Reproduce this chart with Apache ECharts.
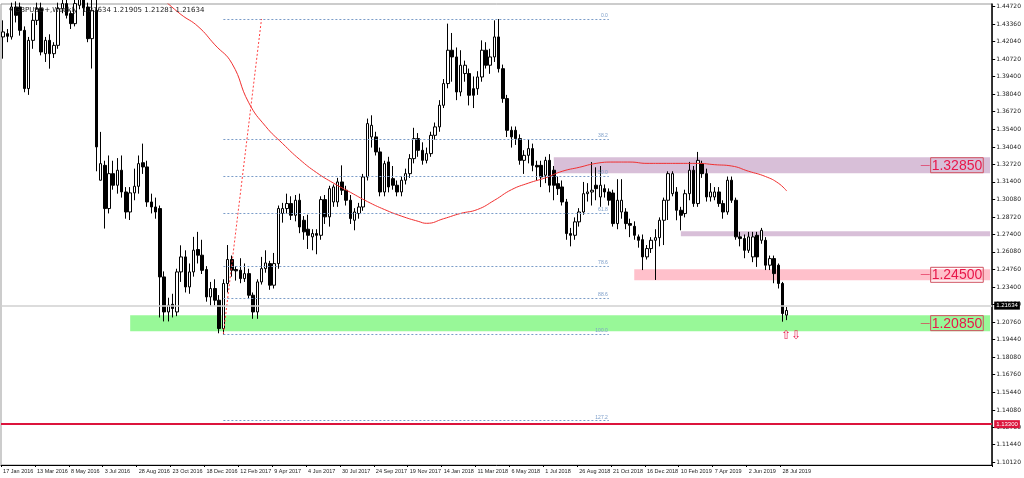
<!DOCTYPE html>
<html>
<head>
<meta charset="utf-8">
<script src="https://cdn.jsdelivr.net/npm/echarts@6/dist/echarts.min.js"></script>
<style>
  html, body { margin: 0; padding: 0; background: #fff; }
  #chart { width: 1024px; height: 478px; }
</style>
</head>
<body>
<div id="chart"></div>
<script>
// weekly candles GBPUSD, [open, close, low, high], first week 17 Jan 2016
const candles = [
  [1.4240,1.4278,1.4075,1.4366],[1.4265,1.4245,1.4200,1.4300],[1.4240,1.4467,1.4220,1.4500],[1.4467,1.4404,1.4350,1.4510],
  [1.4467,1.4290,1.4250,1.4500],[1.4290,1.3848,1.3820,1.4320],[1.3848,1.4214,1.3800,1.4240],[1.4214,1.4366,1.4150,1.4420],
  [1.4366,1.4455,1.4330,1.4500],[1.4455,1.4126,1.4100,1.4500],[1.4113,1.4214,1.4050,1.4240],[1.4214,1.4113,1.3999,1.4260],
  [1.4113,1.4176,1.4080,1.4200],[1.4176,1.4455,1.4150,1.4500],[1.4455,1.4493,1.4420,1.4540],[1.4493,1.4404,1.4380,1.4560],
  [1.4417,1.4341,1.4300,1.4440],[1.4341,1.4493,1.4320,1.4550],[1.4480,1.4530,1.4450,1.4600],[1.4530,1.4460,1.4400,1.4650],
  [1.4467,1.4227,1.4200,1.4500],[1.4227,1.4442,1.4000,1.4800],[1.4442,1.3405,1.3220,1.5000],[1.3152,1.3278,1.3150,1.3519],
  [1.3265,1.2937,1.2785,1.3300],[1.2937,1.3202,1.2900,1.3340],[1.3202,1.3114,1.3080,1.3300],[1.3114,1.3228,1.3050,1.3320],
  [1.3228,1.3063,1.3020,1.3340],[1.3063,1.2911,1.2860,1.3100],[1.2911,1.3056,1.2850,1.3100],[1.3056,1.3106,1.3000,1.3240],
  [1.3106,1.3278,1.3050,1.3340],[1.3285,1.3253,1.3200,1.3430],[1.3253,1.2987,1.2950,1.3300],[1.2987,1.2949,1.2900,1.3050],
  [1.2949,1.2911,1.2860,1.3020],[1.2937,1.2418,1.2110,1.2960],[1.2418,1.2152,1.2080,1.2460],[1.2152,1.2203,1.2080,1.2260],
  [1.2210,1.2178,1.2110,1.2290],[1.2152,1.2456,1.2120,1.2480],[1.2456,1.2570,1.2380,1.2658],[1.2570,1.2342,1.2300,1.2620],
  [1.2342,1.2456,1.2290,1.2520],[1.2456,1.2621,1.2420,1.2722],[1.2626,1.2583,1.2520,1.2760],[1.2583,1.2468,1.2440,1.2700],
  [1.2474,1.2266,1.2230,1.2500],[1.2266,1.2330,1.2200,1.2380],[1.2330,1.2241,1.2200,1.2400],[1.2241,1.2026,1.1990,1.2280],
  [1.2026,1.2368,1.1980,1.2400],[1.2368,1.2550,1.2300,1.2660],[1.2550,1.2469,1.2420,1.2580],[1.2474,1.2464,1.2390,1.2500],
  [1.2469,1.2405,1.2370,1.2560],[1.2405,1.2443,1.2380,1.2520],[1.2443,1.2279,1.2250,1.2480],[1.2279,1.2152,1.2100,1.2300],
  [1.2152,1.2380,1.2100,1.2400],[1.2380,1.2481,1.2360,1.2570],[1.2481,1.2524,1.2450,1.2620],[1.2519,1.2355,1.2320,1.2540],
  [1.2355,1.2519,1.2330,1.2600],[1.2519,1.2937,1.2480,1.2960],[1.2900,1.2937,1.2830,1.2980],[1.2937,1.2975,1.2900,1.3050],
  [1.2975,1.2886,1.2850,1.3030],[1.2886,1.3000,1.2840,1.3040],[1.3000,1.2797,1.2750,1.3050],[1.2848,1.2760,1.2700,1.2880],
  [1.2780,1.2734,1.2630,1.2890],[1.2722,1.2747,1.2620,1.2780],[1.2747,1.2734,1.2590,1.2780],[1.2734,1.3005,1.2700,1.3030],
  [1.3005,1.2874,1.2820,1.3040],[1.2874,1.3088,1.2800,1.3110],[1.2987,1.3101,1.2950,1.3120],[1.2987,1.3139,1.2950,1.3170],
  [1.3139,1.3076,1.3040,1.3265],[1.3076,1.3000,1.2960,1.3110],[1.3000,1.2861,1.2820,1.3040],[1.2848,1.2911,1.2772,1.2940],
  [1.2899,1.2949,1.2860,1.2980],[1.2949,1.3177,1.2920,1.3200],[1.3177,1.3582,1.3150,1.3620],[1.3481,1.3569,1.3400,1.3645],
  [1.3481,1.3367,1.3340,1.3520],[1.3367,1.3063,1.3030,1.3400],[1.3063,1.3278,1.3030,1.3300],[1.3291,1.3101,1.3060,1.3330],
  [1.3164,1.3114,1.3080,1.3260],[1.3114,1.3063,1.3030,1.3150],[1.3063,1.3152,1.3030,1.3180],[1.3152,1.3202,1.3120,1.3240],
  [1.3202,1.3316,1.3170,1.3350],[1.3316,1.3468,1.3280,1.3550],[1.3468,1.3379,1.3330,1.3510],[1.3379,1.3303,1.3270,1.3440],
  [1.3303,1.3354,1.3280,1.3400],[1.3354,1.3493,1.3330,1.3520],[1.3493,1.3557,1.3460,1.3590],[1.3557,1.3721,1.3520,1.3760],
  [1.3721,1.3886,1.3700,1.3920],[1.3886,1.4139,1.3850,1.4341],[1.4139,1.4088,1.3900,1.4270],[1.4088,1.3822,1.3760,1.4160],
  [1.3822,1.4025,1.3790,1.4139],[1.3962,1.4025,1.3900,1.4060],[1.3962,1.3797,1.3720,1.4000],[1.3847,1.3797,1.3700,1.3940],
  [1.3847,1.3936,1.3800,1.3980],[1.3936,1.4139,1.3900,1.4214],[1.4139,1.4025,1.4000,1.4200],[1.4025,1.4088,1.3960,1.4150],
  [1.4088,1.4240,1.4050,1.4366],[1.4240,1.3999,1.3970,1.4376],[1.3999,1.3772,1.3740,1.4030],[1.3772,1.3531,1.3480,1.3800],
  [1.3531,1.3481,1.3400,1.3560],[1.3531,1.3468,1.3420,1.3560],[1.3468,1.3303,1.3270,1.3500],[1.3303,1.3341,1.3200,1.3380],
  [1.3341,1.3392,1.3280,1.3460],[1.3392,1.3265,1.3220,1.3430],[1.3265,1.3253,1.3150,1.3300],[1.3265,1.3177,1.3100,1.3300],
  [1.3190,1.3303,1.3130,1.3330],[1.3303,1.3114,1.3060,1.3350],[1.3228,1.3114,1.3000,1.3260],[1.3126,1.3088,1.3040,1.3180],
  [1.3101,1.2987,1.2960,1.3150],[1.2987,1.2747,1.2700,1.3010],[1.2747,1.2734,1.2650,1.2790],[1.2734,1.2836,1.2700,1.2870],
  [1.2836,1.2911,1.2800,1.2940],[1.2911,1.3050,1.2890,1.3139],[1.3050,1.3063,1.2990,1.3130],[1.3063,1.3076,1.2960,1.3290],
  [1.3114,1.3088,1.3000,1.3250],[1.3025,1.3114,1.2950,1.3260],[1.3088,1.3063,1.3020,1.3120],[1.3063,1.3000,1.2960,1.3090],
  [1.3055,1.2823,1.2800,1.3080],[1.2823,1.3000,1.2780,1.3160],[1.2911,1.3000,1.2860,1.3160],[1.2911,1.2823,1.2780,1.2940],
  [1.2823,1.2810,1.2720,1.2860],[1.2802,1.2734,1.2700,1.2840],[1.2722,1.2696,1.2640,1.2740],[1.2701,1.2570,1.2470,1.2740],
  [1.2570,1.2633,1.2550,1.2660],[1.2633,1.2696,1.2600,1.2720],[1.2696,1.2716,1.2395,1.2780],[1.2716,1.2848,1.2650,1.2870],
  [1.2848,1.3000,1.2660,1.3020],[1.3000,1.3202,1.2850,1.3220],[1.3050,1.3202,1.3030,1.3220],[1.3063,1.2924,1.2848,1.3100],
  [1.2924,1.2886,1.2772,1.2950],[1.2899,1.3050,1.2870,1.3080],[1.3050,1.3228,1.3000,1.3291],[1.3228,1.2975,1.2950,1.3260],
  [1.2975,1.3303,1.2950,1.3367],[1.3278,1.3202,1.3170,1.3300],[1.3202,1.3025,1.2990,1.3240],[1.3025,1.3063,1.2990,1.3130],
  [1.3025,1.3063,1.3000,1.3100],[1.3063,1.2975,1.2950,1.3100],[1.2975,1.2911,1.2860,1.3000],[1.2911,1.3152,1.2890,1.3180],
  [1.3152,1.3000,1.2980,1.3180],[1.3000,1.2722,1.2700,1.3020],[1.2722,1.2709,1.2650,1.2760],[1.2709,1.2620,1.2560,1.2740],
  [1.2620,1.2722,1.2600,1.2760],[1.2570,1.2722,1.2530,1.2760],[1.2734,1.2570,1.2494,1.2760],[1.2696,1.2772,1.2670,1.2790],
  [1.2696,1.2507,1.2470,1.2720],[1.2507,1.2557,1.2470,1.2580],[1.2557,1.2443,1.2370,1.2580],[1.2507,1.2368,1.2330,1.2520],
  [1.2368,1.2140,1.2078,1.2380],[1.2128,1.2163,1.2090,1.2190]
];

// moving average readings (week index, price)
const maWeeks  = [38, 42, 46, 50, 54, 58, 62, 66, 70, 74, 78, 82, 86, 90, 94, 98, 100, 104, 108, 112, 116, 120, 124, 128, 132, 136, 140, 144, 148, 152, 156, 160, 164, 168, 172, 176, 180, 183, 185];
const maValues = [1.452, 1.441, 1.432, 1.418, 1.404, 1.374, 1.356, 1.343, 1.331, 1.321, 1.313, 1.306, 1.299, 1.293, 1.288, 1.284, 1.2825, 1.286, 1.290, 1.293, 1.300, 1.308, 1.313, 1.317, 1.322, 1.325, 1.328, 1.329, 1.329, 1.328, 1.328, 1.328, 1.328, 1.327, 1.326, 1.322, 1.318, 1.313, 1.307];

// fibonacci retracement
const fibNames  = ['0.0', '38.2', '50.0', '61.8', '78.6', '88.6', '100.0', '127.2'];
const fibPrices = [1.4376, 1.3463, 1.3181, 1.2899, 1.2497, 1.2258, 1.1986, 1.1326];

// zones: [fromWeek, low, high, colour]
const zones = [
  [30, 1.2006, 1.2127, '#98f898'],
  [130, 1.3205, 1.3326, '#d8bfd8'],
  [160, 1.2726, 1.2764, '#d8bfd8'],
  [149, 1.2392, 1.2476, '#ffc0cb']
];
const levelTexts  = ['1.32850', '1.24500', '1.20850'];
const levelPrices = [1.3266, 1.2434, 1.2067];

const yTicks = [1.44720,1.43360,1.42040,1.40720,1.39400,1.38040,1.36720,1.35400,1.34040,1.32720,1.31400,1.30080,1.28720,1.27400,1.26080,1.24760,1.23400,1.22080,1.20760,1.19440,1.18080,1.16760,1.15440,1.14080,1.12760,1.11440,1.10120];

const lastPrice = 1.21634;
const redLevel = 1.13300;
const totalWeeks = 234;
const lastLabelWeek = 184;

const months = ['Jan','Feb','Mar','Apr','May','Jun','Jul','Aug','Sep','Oct','Nov','Dec'];
const weeks = [];
for (let i = 0; i < totalWeeks; i++) {
  const d = new Date(Date.UTC(2016, 0, 17 + i * 7));
  weeks.push(d.getUTCDate() + ' ' + months[d.getUTCMonth()] + ' ' + d.getUTCFullYear());
}

const maData = new Array(totalWeeks).fill(null);
maWeeks.forEach((w, i) => { maData[w] = maValues[i]; });

const lastCat = weeks[totalWeeks - 1];

const fibLines = fibPrices.map((p, i) => [
  { coord: [weeks[52], p], lineStyle: { color: '#7a9cc8', type: [2, 2], width: 1 } },
  { coord: [weeks[143], p], label: { show: true, formatter: fibNames[i], position: 'insideEndTop', color: '#7a9cc8', fontSize: 5, distance: 1 } }
]);

const zoneAreas = zones.map(z => [
  { coord: [weeks[z[0]], z[1]], itemStyle: { color: z[3], opacity: 1 } },
  { coord: [lastCat, z[2]] }
]);

const levelPoints = levelTexts.map((t, i) => ({
  coord: [weeks[224], levelPrices[i]],
  symbolSize: 0,
  label: {
    show: true,
    formatter: '{d|—}{b|' + t + '}',
    rich: {
      d: { color: '#e0204c', fontSize: 9, padding: [0, 1, 0, 0] },
      b: { color: '#e8174a', fontSize: 14, fontFamily: 'Liberation Sans', borderColor: '#d05060', borderWidth: 1, padding: [1, 1, 0, 1] }
    }
  }
}));

const chart = echarts.init(document.getElementById('chart'));
chart.setOption({
  animation: false,
  backgroundColor: '#fff',
  title: {
    text: '▾ GBPUSD+,Weekly  1.21634 1.21905 1.21281 1.21634',
    left: 4, top: 2,
    textStyle: { fontSize: 7, fontWeight: 'normal', color: '#222', fontFamily: 'DejaVu Sans' }
  },
  grid: { left: 1, right: 26, top: 4, bottom: 13, show: true, borderColor: '#999', borderWidth: 1 },
  xAxis: {
    type: 'category',
    data: weeks,
    boundaryGap: true,
    axisLine: { lineStyle: { color: '#000' } },
    axisTick: { show: true, length: 2, interval: (i) => i % 8 === 0 && i <= lastLabelWeek, lineStyle: { color: '#000' } },
    axisLabel: {
      interval: (i) => i % 8 === 0 && i <= lastLabelWeek,
      hideOverlap: false,
      showMinLabel: true,
      fontSize: 5.5, color: '#222', align: 'left', margin: 3, fontFamily: 'Liberation Sans Narrow, Liberation Sans'
    },
    splitLine: { show: false }
  },
  yAxis: {
    type: 'value',
    position: 'right',
    min: 1.0990,
    max: 1.4490,
    scale: true,
    axisLine: { show: true, lineStyle: { color: '#000', width: 1.5 } },
    axisTick: { show: true, length: 3, customValues: yTicks, lineStyle: { color: '#000' } },
    axisLabel: { customValues: yTicks, fontSize: 6, color: '#222', margin: 4, formatter: v => v.toFixed(5), fontFamily: 'DejaVu Sans' },
    splitLine: { show: false }
  },
  series: [
    {
      type: 'candlestick',
      data: candles,
      barWidth: 3,
      clip: true,
      itemStyle: { color: '#fff', color0: '#000', borderColor: '#000', borderColor0: '#000', borderWidth: 1 },
      markArea: { silent: true, data: zoneAreas },
      markLine: {
        silent: true, symbol: 'none',
        data: fibLines.concat([
          [
            { coord: [weeks[52], fibPrices[6]], lineStyle: { color: '#ff4040', type: [2, 2], width: 1 } },
            { coord: [weeks[61], 1.4376] }
          ],
          {
            yAxis: lastPrice, lineStyle: { color: '#d0d0d0', type: 'solid', width: 1.5 },
            label: { show: true, position: 'end', formatter: lastPrice.toFixed(5), backgroundColor: '#000', color: '#fff', fontSize: 6, padding: [1, 2], distance: 2 }
          },
          {
            yAxis: redLevel, lineStyle: { color: '#dc143c', type: 'solid', width: 2 },
            label: { show: true, position: 'end', formatter: redLevel.toFixed(5), backgroundColor: '#dc143c', color: '#fff', fontSize: 6, padding: [1, 2], distance: 2 }
          }
        ])
      },
      markPoint: {
        silent: true,
        data: levelPoints.concat([{
          coord: [weeks[186], 1.1975], symbolSize: 0,
          label: { show: true, formatter: '⇧⇩', color: '#e8174a', fontSize: 12 }
        }])
      }
    },
    {
      type: 'line',
      data: maData,
      connectNulls: true,
      showSymbol: false,
      smooth: true,
      clip: true,
      lineStyle: { color: '#f03030', width: 1 },
      z: 3
    }
  ]
});
</script>
</body>
</html>
